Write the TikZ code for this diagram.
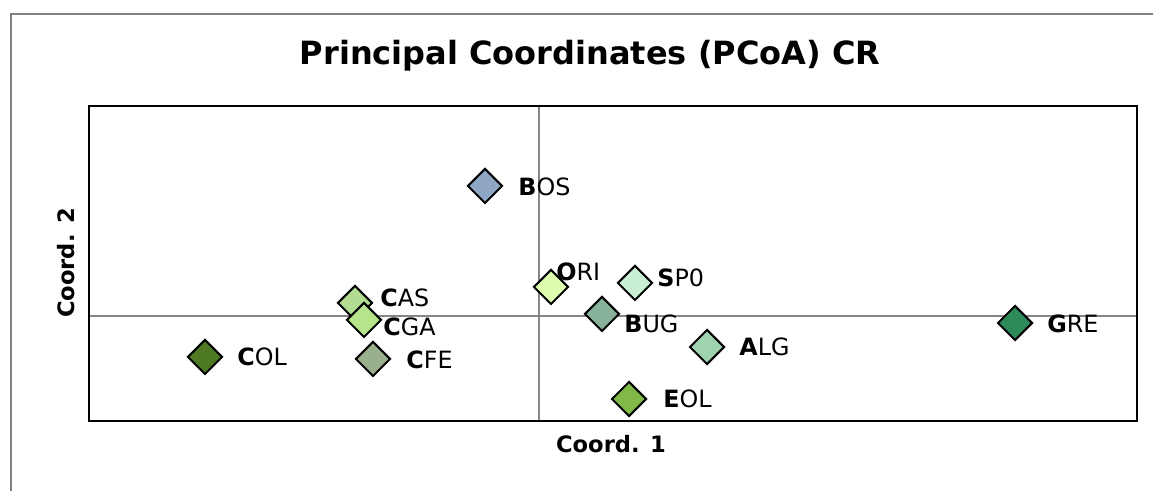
\documentclass[tikz,border=0pt]{standalone}
\usepackage{fontspec}
\setmainfont{DejaVu Sans}
\usetikzlibrary{shapes.geometric}
\tikzset{
  mk/.style={diamond, draw=black, line width=1pt, minimum size=17.5pt, inner sep=0pt},
  lab/.style={anchor=west, inner sep=0pt, font=\fontsize{11.9}{14}\selectfont},
  axln/.style={draw=gray!95, line width=1pt},
}
\definecolor{cBOS}{HTML}{8FA6C4}
\definecolor{cORI}{HTML}{DDFDAE}
\definecolor{cSPO}{HTML}{C8EFD6}
\definecolor{cBUG}{HTML}{88B39B}
\definecolor{cALG}{HTML}{9FD3AF}
\definecolor{cGRE}{HTML}{2E8A58}
\definecolor{cEOL}{HTML}{80B948}
\definecolor{cCAS}{HTML}{B1DC92}
\definecolor{cCGA}{HTML}{B6E38B}
\definecolor{cCOL}{HTML}{4E7A24}
\definecolor{cCFE}{HTML}{9AAF8B}
\begin{document}
\begin{tikzpicture}[x=0.5pt,y=-0.5pt]
\useasboundingbox (0,0) rectangle (1153,491);
\fill[white] (0,0) rectangle (1153,491);
% outer chart frame
\draw[draw=gray, line width=1pt] (11,495) -- (11,14) -- (1160,14);
% title
\node (title) at (590,56) {\fontsize{16}{19}\selectfont\bfseries Principal Coordinates (PCoA) CR};
% axes through origin
\coordinate (vx0) at (539,106);
\coordinate (vx1) at (539,421);
\coordinate (hz0) at (89,316);
\coordinate (hz1) at (1137,316);
\draw[axln] (vx0) -- (vx1);
\draw[axln] (hz0) -- (hz1);
% plot border
\draw[black, line width=1.1pt] (89,106) rectangle (1137,421);
% axis titles
\node (xt) at (611,444) {\fontsize{11.3}{13}\selectfont\bfseries Coord. 1};
\node[rotate=90] (yt) at (66,263) {\fontsize{11.3}{13}\selectfont\bfseries Coord. 2};
% markers
\node[mk, fill=cBOS] (BOS) at (485,186) {};
\node[mk, fill=cORI] (ORI) at (551,287) {};
\node[mk, fill=cSPO] (SPO) at (635,283) {};
\node[mk, fill=cBUG] (BUG) at (602,314) {};
\node[mk, fill=cALG] (ALG) at (707,347) {};
\node[mk, fill=cGRE] (GRE) at (1015,323) {};
\node[mk, fill=cEOL] (EOL) at (629,399) {};
\node[mk, fill=cCAS] (CAS) at (355,303) {};
\node[mk, fill=cCGA] (CGA) at (364,320) {};
\node[mk, fill=cCOL] (COL) at (205,357) {};
\node[mk, fill=cCFE] (CFE) at (373,359) {};
% labels
\node[lab] (lBOS) at (518,187) {\textbf{B}OS};
\node[lab] (lORI) at (556,272) {\textbf{O}RI};
\node[lab] (lSPO) at (657,278) {\textbf{S}P0};
\node[lab] (lBUG) at (624,324) {\textbf{B}UG};
\node[lab] (lALG) at (739,347) {\textbf{A}LG};
\node[lab] (lGRE) at (1047,324) {\textbf{G}RE};
\node[lab] (lEOL) at (663,399) {\textbf{E}OL};
\node[lab] (lCAS) at (380,298) {\textbf{C}AS};
\node[lab] (lCGA) at (383,327) {\textbf{C}GA};
\node[lab] (lCOL) at (237,357) {\textbf{C}OL};
\node[lab] (lCFE) at (406,360) {\textbf{C}FE};
\end{tikzpicture}
\end{document}
